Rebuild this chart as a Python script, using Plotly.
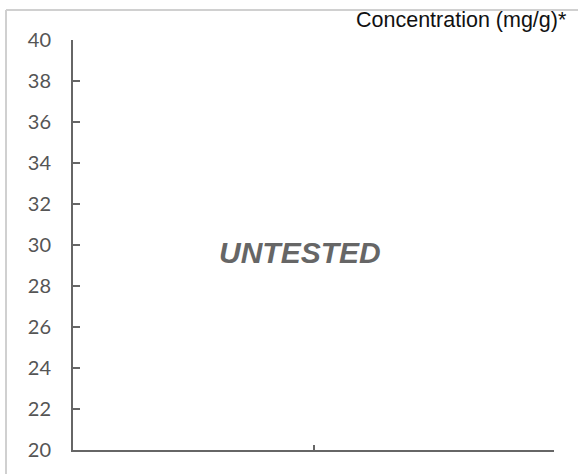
import plotly.graph_objects as go

# Data (chart shows no measured values: "UNTESTED")
categories = ["A", "B"]
values = [None, None]
y_ticks = [20, 22, 24, 26, 28, 30, 32, 34, 36, 38, 40]
y_range = [20, 40]
title_text = "Concentration (mg/g)*"
status_text = "UNTESTED"

W, H = 578, 474
L, R, T, B = 73, 24, 40, 24
pw, ph = W - L - R, H - T - B

def px_to_paper_x(px):
    return (px - L) / pw

def px_to_paper_y(py):
    return (H - B - py) / ph

fig = go.Figure()
fig.add_trace(go.Scatter(x=[0.5, 1.5], y=values, mode="markers", showlegend=False,
                         hoverinfo="skip"))

fig.update_layout(
    width=W, height=H,
    margin=dict(l=L, r=R, t=T, b=B),
    paper_bgcolor="white", plot_bgcolor="white",
    showlegend=False,
    xaxis=dict(range=[0, len(categories)], tickmode="linear", tick0=0, dtick=1,
               showgrid=False, zeroline=False, showline=True, linecolor="#666666",
               linewidth=2, ticks="inside", ticklen=5, tickwidth=1.5, tickcolor="#666666",
               showticklabels=False, fixedrange=True),
    yaxis=dict(range=y_range, tickmode="array", tickvals=y_ticks,
               ticktext=[str(v) for v in y_ticks],
               showgrid=False, zeroline=False, showline=True, linecolor="#666666",
               linewidth=2, ticks="inside", ticklen=7, tickwidth=1.5, tickcolor="#666666",
               tickfont=dict(family="Lato", size=20, color="#555555"),
               ticklabelstandoff=16, fixedrange=True),
    shapes=[
        dict(type="line", xref="paper", yref="paper",
             x0=px_to_paper_x(6), x1=px_to_paper_x(W + 2),
             y0=px_to_paper_y(10), y1=px_to_paper_y(10),
             line=dict(color="#d0d0d0", width=2)),
        dict(type="line", xref="paper", yref="paper",
             x0=px_to_paper_x(6), x1=px_to_paper_x(6),
             y0=px_to_paper_y(10), y1=px_to_paper_y(H + 2),
             line=dict(color="#d0d0d0", width=2)),
    ],
    annotations=[
        dict(text=title_text, xref="paper", yref="paper",
             x=px_to_paper_x(569), y=px_to_paper_y(20),
             xanchor="right", yanchor="middle", showarrow=False,
             font=dict(family="Liberation Sans, Arial", size=21.5, color="#111111")),
        dict(text="<b><i>" + status_text + "</i></b>", xref="paper", yref="paper",
             x=px_to_paper_x(300), y=px_to_paper_y(252),
             xanchor="center", yanchor="middle", showarrow=False,
             font=dict(family="Liberation Sans, Arial", size=30, color="#666666")),
    ],
)

fig.write_html("out.html", config={"displayModeBar": False},
               post_script="document.body.style.margin='0';document.body.style.padding='0';")
